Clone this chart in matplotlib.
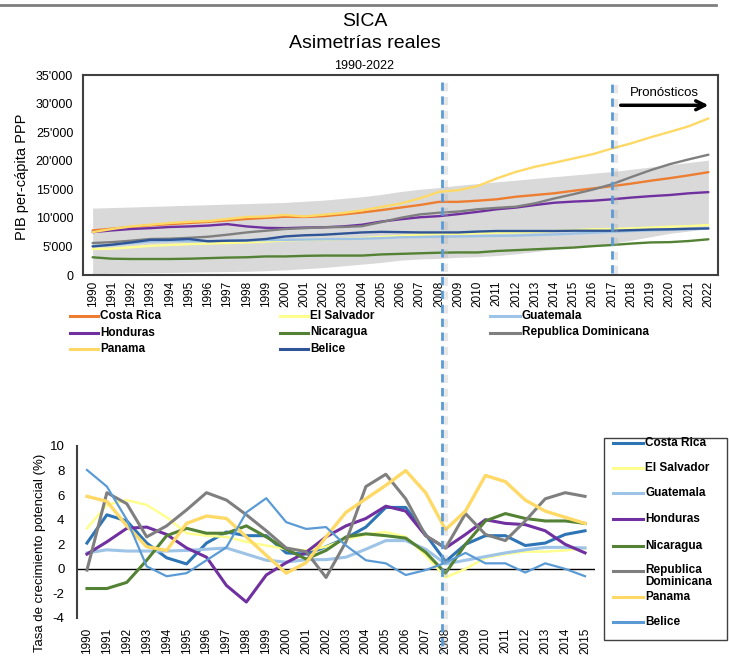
import matplotlib
matplotlib.use("Agg")
import matplotlib.pyplot as plt
from matplotlib.lines import Line2D
from matplotlib.patches import Rectangle
from matplotlib.ticker import FuncFormatter, MultipleLocator
import matplotlib.patheffects as pe

plt.rcParams['font.family'] = ['Liberation Sans', 'DejaVu Sans']
plt.rcParams['axes.unicode_minus'] = False

# ---------------- data: top chart (PIB per-capita PPP) ----------------
years_top = list(range(1990, 2023))
costa_rica = [7800, 8100, 8400, 8700, 8900, 9100, 9300, 9550, 9800, 10000, 10200, 10150, 10300, 10600,
              10950, 11350, 11800, 12250, 12800, 12800, 13000, 13250, 13700, 14000, 14300, 14750, 15150,
              15550, 16000, 16500, 16950, 17450, 18000]
el_salvador = [4550, 4600, 4850, 5100, 5250, 5400, 5500, 5600, 5700, 5850, 6050, 6150, 6200, 6300, 6450,
               6650, 6850, 7050, 7150, 7200, 7300, 7400, 7450, 7550, 7700, 7850, 8000, 8050, 8150, 8300,
               8450, 8550, 8750]
guatemala = [5100, 5250, 5550, 5850, 5950, 5900, 5950, 6000, 6050, 6100, 6150, 6200, 6250, 6300, 6350,
             6450, 6600, 6650, 6700, 6750, 6800, 6850, 6900, 7000, 7100, 7250, 7400, 7550, 7700, 7800,
             7900, 8000, 8150]
honduras = [7500, 7800, 8050, 8200, 8400, 8500, 8650, 8900, 8500, 8250, 8200, 8300, 8350, 8500, 8800,
            9350, 9750, 10100, 10300, 10650, 11050, 11500, 11800, 12250, 12650, 12850, 13000, 13250,
            13550, 13800, 14000, 14300, 14500]
nicaragua = [3100, 2850, 2800, 2800, 2800, 2850, 2950, 3050, 3100, 3250, 3250, 3350, 3400, 3400, 3400,
             3600, 3700, 3800, 3900, 3950, 3950, 4200, 4350, 4500, 4650, 4800, 5050, 5250, 5500, 5700,
             5750, 5950, 6250]
rep_dominicana = [5600, 5750, 6000, 6300, 6350, 6500, 6700, 7050, 7450, 7750, 8050, 8200, 8350, 8400,
                  8550, 9250, 10000, 10600, 10900, 11100, 11500, 11750, 11950, 12550, 13400, 14150,
                  14950, 15900, 17150, 18350, 19400, 20250, 21050]
panama = [7500, 8050, 8500, 8800, 9100, 9300, 9450, 9800, 10150, 10250, 10500, 10250, 10550, 10850,
          11300, 11900, 12500, 13400, 14550, 14850, 15550, 16900, 18050, 18950, 19650, 20400, 21150,
          22150, 23050, 24100, 25050, 26050, 27400]
belice = [5000, 5300, 5700, 6150, 6150, 6300, 5900, 6000, 6050, 6300, 6750, 6950, 7050, 7250, 7450,
          7550, 7500, 7450, 7450, 7450, 7600, 7700, 7700, 7700, 7700, 7750, 7750, 7750, 7850, 7950,
          8000, 8100, 8150]
band_upper = [11700, 11800, 11900, 12000, 12100, 12200, 12300, 12400, 12500, 12600, 12700, 12900, 13100,
              13400, 13700, 14100, 14600, 15000, 15300, 15700, 16000, 16300, 16600, 16900, 17200, 17500,
              17800, 18100, 18500, 18900, 19300, 19700, 20100]
band_lower = [200, 300, 350, 400, 450, 500, 550, 600, 650, 750, 900, 1100, 1300, 1600, 1900, 2200, 2600,
              2800, 2900, 3100, 3200, 3400, 3700, 4100, 4500, 4900, 5200, 5500, 6100, 6700, 7300, 7700, 8100]

# ---------------- data: bottom chart (tasa de crecimiento potencial) ----------------
years_bot = list(range(1990, 2016))
g_costa_rica = [2.1, 4.4, 3.9, 2.1, 0.9, 0.4, 2.1, 3.0, 2.7, 2.7, 1.3, 1.2, 1.8, 2.5, 3.4, 5.0, 5.0,
                2.8, 0.6, 2.0, 2.7, 2.7, 1.9, 2.1, 2.8, 3.1]
g_el_salvador = [3.3, 5.2, 5.6, 5.2, 4.2, 2.9, 2.7, 2.6, 2.2, 1.9, 1.6, 1.5, 1.8, 2.4, 2.8, 3.0, 2.6,
                 1.1, -0.7, 0.0, 0.9, 1.2, 1.4, 1.4, 1.5, 1.7]
g_guatemala = [1.3, 1.55, 1.45, 1.45, 1.45, 1.5, 1.6, 1.7, 1.2, 0.7, 0.55, 0.75, 0.75, 0.95, 1.6, 2.3,
               2.3, 1.6, 0.4, 0.7, 1.0, 1.3, 1.55, 1.75, 1.75, 1.7]
g_honduras = [1.2, 2.2, 3.3, 3.4, 2.8, 1.7, 0.95, -1.35, -2.7, -0.5, 0.5, 1.35, 2.6, 3.5, 4.1, 5.1, 4.7,
              2.7, 1.7, 2.8, 4.0, 3.7, 3.6, 3.1, 2.0, 1.3]
g_nicaragua = [-1.6, -1.6, -1.1, 0.7, 2.7, 3.3, 2.9, 2.9, 3.5, 2.6, 1.6, 0.8, 1.5, 2.6, 2.85, 2.7, 2.5,
               1.35, -0.35, 2.0, 3.9, 4.5, 4.1, 3.9, 3.9, 3.7]
g_rep_dominicana = [-0.1, 6.2, 5.3, 2.6, 3.5, 4.8, 6.2, 5.6, 4.4, 3.1, 1.7, 1.4, -0.7, 2.2, 6.7, 7.7,
                    5.7, 2.7, 1.7, 4.5, 2.8, 2.3, 3.9, 5.7, 6.2, 5.9]
g_panama = [5.9, 5.5, 3.5, 1.8, 1.5, 3.7, 4.3, 4.1, 2.6, 1.1, -0.35, 0.5, 2.6, 4.6, 5.7, 6.8, 8.0, 6.2,
            3.2, 4.7, 7.6, 7.1, 5.6, 4.7, 4.2, 3.7]
g_belice = [8.05, 6.7, 4.0, 0.2, -0.6, -0.35, 0.7, 1.75, 4.6, 5.75, 3.8, 3.25, 3.4, 1.9, 0.7, 0.45, -0.5,
            -0.1, 0.5, 1.3, 0.45, 0.45, -0.3, 0.45, 0.0, -0.6]

names = ['Costa Rica', 'El Salvador', 'Guatemala', 'Honduras', 'Nicaragua',
         'Republica Dominicana', 'Panama', 'Belice']
top_vals = [costa_rica, el_salvador, guatemala, honduras, nicaragua, rep_dominicana, panama, belice]
bot_vals = [g_costa_rica, g_el_salvador, g_guatemala, g_honduras, g_nicaragua, g_rep_dominicana,
            g_panama, g_belice]
top_colors = ['#ED7D31', '#FFFF8F', '#9DC3E6', '#7030A0', '#548235', '#7F7F7F', '#FFD966', '#2F5597']
bot_colors = ['#2E75B6', '#FFFF8F', '#9DC3E6', '#7030A0', '#548235', '#7F7F7F', '#FFD966', '#5B9BD5']
bot_widths = [2.2, 1.8, 2.2, 2.2, 2.2, 2.2, 2.4, 1.6]

W, H = 729, 660
fig = plt.figure(figsize=(W / 100, H / 100), dpi=100)


def fx(p):
    return p / W


def fy(p):
    return 1 - p / H


# top decorative rule
fig.add_artist(Line2D([0, fx(716)], [fy(5), fy(5)], color='#7F7F7F', lw=2, transform=fig.transFigure))

fig.text(0.5, fy(22), 'SICA', ha='center', va='center', fontsize=14)
fig.text(0.5, fy(44), 'Asimetrías reales', ha='center', va='center', fontsize=14)
fig.text(0.5, fy(66), '1990-2022', ha='center', va='center', fontsize=9)

# ---------------- top axes ----------------
ax1 = fig.add_axes([fx(83), fy(275), (718 - 83) / W, (275 - 75) / H])
ax1.fill_between(years_top, band_lower, band_upper, color='#D9D9D9', lw=0, zorder=1)
for vals, col in zip(top_vals, top_colors):
    ax1.plot(years_top, vals, color=col, lw=1.7, zorder=3, solid_capstyle='round')
ax1.set_xlim(1989.5, 2022.5)
ax1.set_ylim(0, 35000)
ax1.set_xticks(years_top)
ax1.set_xticklabels([str(y) for y in years_top], rotation=90, fontsize=8.5)
ax1.yaxis.set_major_locator(MultipleLocator(5000))
ax1.yaxis.set_major_formatter(FuncFormatter(lambda v, p: f"{int(v):,}".replace(",", "'")))
ax1.tick_params(axis='y', length=0, labelsize=9, pad=7)
ax1.tick_params(axis='x', length=0, pad=4)
for s in ax1.spines.values():
    s.set_color('#404040')
    s.set_linewidth(1.5)

shadow = [pe.SimpleLineShadow(offset=(3, -1), shadow_color='#b0b0b0', alpha=0.3, linewidth=3),
          pe.Normal()]
ax1.axvline(2017, ymin=0.01, ymax=0.965, color='#5B9BD5', lw=2, linestyle=(0, (3, 2)), zorder=4,
            path_effects=shadow)
ax1.text(2019.7, 31900, 'Pronósticos', ha='center', va='center', fontsize=9.5)
ax1.annotate('', xy=(2022.15, 29700), xytext=(2017.3, 29700),
             arrowprops=dict(arrowstyle='->', lw=2.5, color='black', mutation_scale=16))

fig.text(fx(22), fy(177), 'PIB per-cápita PPP', rotation=90, ha='center', va='center', fontsize=10.5)

# top legend (row-major, 3 columns)
row_y = [316, 332.5, 349]
col_handle = [(70, 98), (280, 308), (490, 520)]
col_text = [100, 310, 522]
for i, (nm, col) in enumerate(zip(names, top_colors)):
    r, c = divmod(i, 3)
    y = fy(row_y[r])
    fig.add_artist(Line2D([fx(col_handle[c][0]), fx(col_handle[c][1])], [y, y], color=col, lw=2.2,
                          transform=fig.transFigure))
    fig.text(fx(col_text[c]), y, nm, ha='left', va='center', fontsize=8.5, fontweight='bold')

# ---------------- bottom axes ----------------
ax2 = fig.add_axes([fx(77), fy(618), (595 - 77) / W, (618 - 446) / H])
ax2.axhline(0, color='black', lw=1, zorder=2)
for vals, col, lw in zip(bot_vals, bot_colors, bot_widths):
    ax2.plot(years_bot, vals, color=col, lw=lw, zorder=3)
ax2.set_xlim(1989.5, 2015.5)
ax2.set_ylim(-4, 10)
ax2.set_yticks(range(-4, 11, 2))
ax2.set_xticks(years_bot)
ax2.set_xticklabels([str(y) for y in years_bot], rotation=90, fontsize=8.5)
ax2.tick_params(axis='y', length=0, labelsize=9.5, pad=9)
ax2.tick_params(axis='x', length=0, pad=7)
for k in ['top', 'right', 'bottom']:
    ax2.spines[k].set_visible(False)
ax2.spines['left'].set_color('#404040')
ax2.spines['left'].set_linewidth(1.5)

fig.text(fx(40), fy(553), 'Tasa de crecimiento potencial (%)', rotation=90, ha='center', va='center',
         fontsize=9.5)

# bottom legend box
fig.add_artist(Rectangle((fx(604), fy(640)), (727 - 604) / W, (640 - 438) / H, fill=False,
                         edgecolor='#404040', lw=1, transform=fig.transFigure))
leg_rows = [443, 468, 493, 519, 546, 571, 597, 622]
for nm, col, yy in zip(names, bot_colors, leg_rows):
    y = fy(yy)
    fig.add_artist(Line2D([fx(613), fx(643)], [y, y], color=col, lw=2.2, transform=fig.transFigure))
    label = 'Republica\nDominicana' if nm == 'Republica Dominicana' else nm
    if '\n' in label:
        fig.text(fx(645), fy(yy - 6.5), label, ha='left', va='top', fontsize=8.5, fontweight='bold',
                 linespacing=0.95)
    else:
        fig.text(fx(645), y, label, ha='left', va='center', fontsize=8.5, fontweight='bold')

# 2008 dashed line across both panels
fig.add_artist(Line2D([fx(442), fx(442)], [fy(82), fy(652)], color='#5B9BD5', lw=2,
                      linestyle=(0, (3, 2)), transform=fig.transFigure, zorder=5, path_effects=shadow))

fig.savefig('out.png', dpi=100)
